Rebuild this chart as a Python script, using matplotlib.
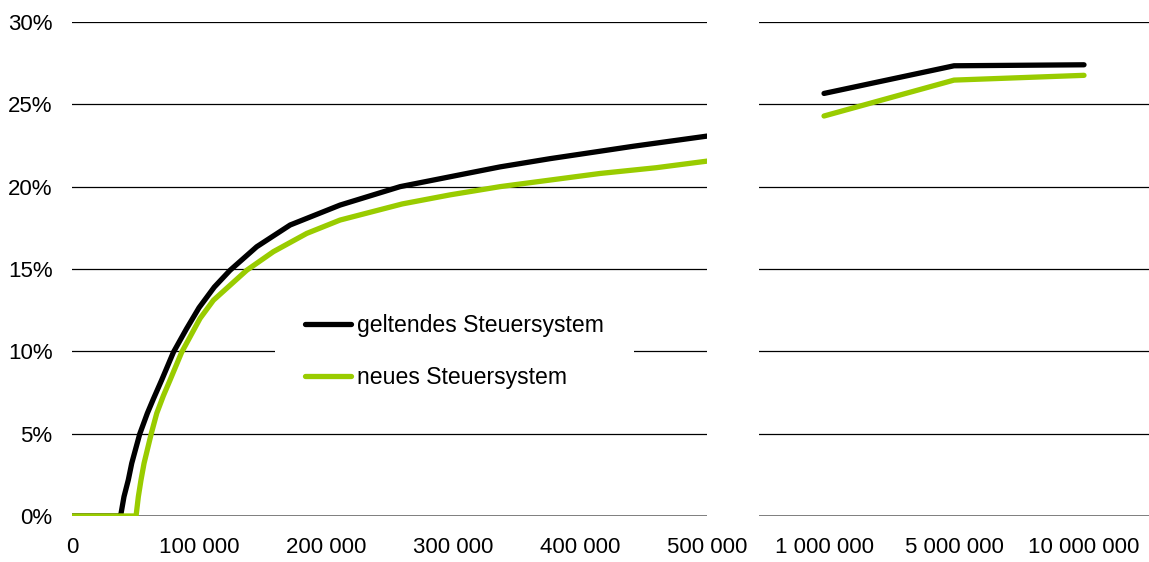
import matplotlib
matplotlib.use("Agg")
import matplotlib.pyplot as plt
from matplotlib.ticker import FuncFormatter

# --- DATA ---
# left panel: effective rate in % over income 0 .. 500 000
inc_old = [0, 38300, 38600, 40900, 44300, 47000, 53300, 59300, 64000, 70600,
           79800, 90000, 100000, 112000, 124400, 145400, 171700, 211000,
           258300, 297600, 337000, 376400, 415700, 441700, 500000]
rate_old = [0, 0, 0.16, 1.17, 2.19, 3.2, 4.98, 6.24, 7.1, 8.26,
            9.94, 11.35, 12.65, 13.9, 14.92, 16.35, 17.67, 18.88,
            20.0, 20.6, 21.2, 21.7, 22.15, 22.45, 23.07]

inc_new = [0, 50400, 52200, 54300, 56700, 62300, 66700, 71900, 77200, 86300,
           100800, 111300, 137500, 158500, 184800, 211000, 260000, 297600,
           337000, 376400, 415700, 460000, 500000]
rate_new = [0, 0, 1.17, 2.19, 3.2, 4.98, 6.24, 7.3, 8.26, 9.94,
            12.0, 13.1, 14.92, 16.05, 17.16, 17.97, 18.95, 19.5,
            20.0, 20.4, 20.8, 21.15, 21.55]

# right panel: high incomes as categories
high_labels = ['1 000 000', '5 000 000', '10 000 000']
high_old = [25.66, 27.34, 27.4]
high_new = [24.29, 26.47, 26.76]

left_ticks = [0, 100000, 200000, 300000, 400000, 500000]
left_ticklabels = ['0', '100 000', '200 000', '300 000', '400 000', '500 000']
y_ticks = [0, 5, 10, 15, 20, 25, 30]

label_old = 'geltendes Steuersystem'
label_new = 'neues Steuersystem'

# --- STYLE ---
plt.rcParams['font.family'] = ['Liberation Sans', 'DejaVu Sans']
plt.rcParams['font.size'] = 16
black = '#000000'
green = '#99CC00'
lw = 3.8

fig = plt.figure(figsize=(11.49, 5.62), dpi=100)
ax1 = fig.add_axes([0.0627, 0.0819, 0.5527, 0.879])
ax2 = fig.add_axes([0.6606, 0.0819, 0.3394, 0.879])

for ax in (ax1, ax2):
    ax.set_ylim(0, 30)
    ax.set_yticks(y_ticks)
    for s in ax.spines.values():
        s.set_visible(False)
    ax.tick_params(length=0)
    ax.grid(axis='y', color='black', linewidth=0.9, zorder=0)
    ax.set_axisbelow(True)
    ax.axhline(0, color='#7f7f7f', linewidth=1.4, zorder=1)

# left panel
ax1.plot(inc_old, rate_old, color=black, lw=lw, label=label_old,
         solid_capstyle='round', solid_joinstyle='round', zorder=3)
ax1.plot(inc_new, rate_new, color=green, lw=lw, label=label_new,
         solid_capstyle='round', solid_joinstyle='round', zorder=4)
ax1.set_xlim(0, 500000)
ax1.set_xticks(left_ticks)
ax1.set_xticklabels(left_ticklabels)
ax1.yaxis.set_major_formatter(FuncFormatter(lambda v, p: f'{v:.0f}%'))
ax1.tick_params(axis='y', pad=14)
ax1.tick_params(axis='x', pad=15)

# right panel
xs = range(len(high_labels))
ax2.plot(xs, high_old, color=black, lw=lw, solid_capstyle='round', zorder=3)
ax2.plot(xs, high_new, color=green, lw=lw, solid_capstyle='round', zorder=4)
ax2.set_xlim(-0.5, 2.5)
ax2.set_xticks(list(xs))
ax2.set_xticklabels(high_labels)
ax2.set_yticklabels([])
ax2.tick_params(axis='x', pad=15)

leg = ax1.legend(loc='center', bbox_to_anchor=(0.602, 0.333),
                 frameon=True, facecolor='white', edgecolor='none',
                 framealpha=1, fancybox=False, borderpad=1.3, fontsize=16.6,
                 handlelength=2.0, handletextpad=0.25, labelspacing=1.24)
leg.set_zorder(5)

fig.savefig('out.png', dpi=100)
